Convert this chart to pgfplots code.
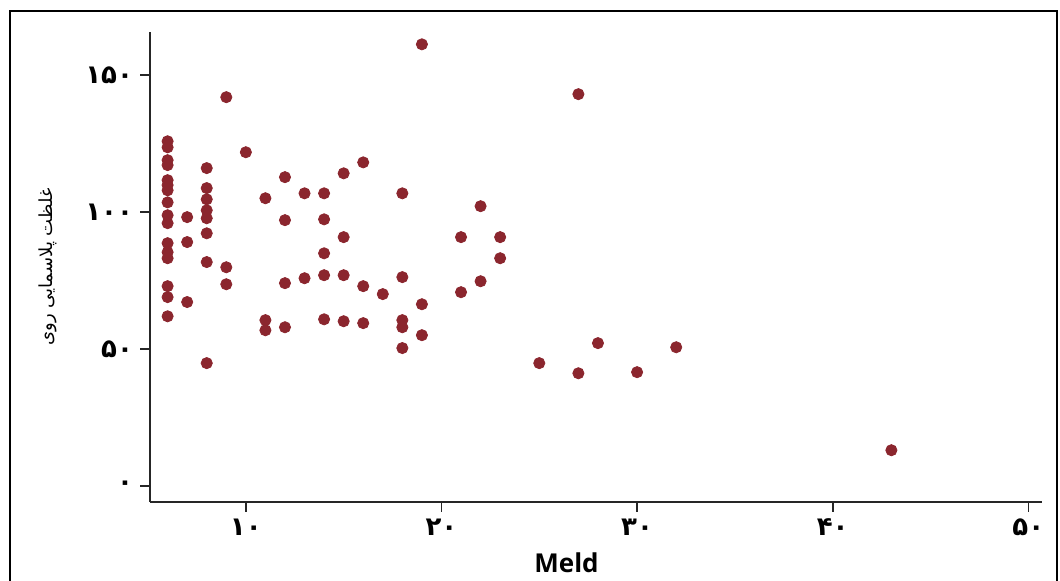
\documentclass[border=0pt]{standalone}
\usepackage{fontspec}
\usepackage{pgfplots}
\pgfplotsset{compat=1.18}
\TeXXeTstate=1
\newfontfamily\arabicfont[Script=Arabic]{DejaVu Sans}
\newfontfamily\digitfont{DejaVu Sans}
\newfontfamily\labfont{Open Sans}
\definecolor{dotred}{RGB}{139,38,46}
\begin{document}
\begin{tikzpicture}
\useasboundingbox (0,0) rectangle (530pt,290.5pt);
\draw[line width=1pt] (5pt,-1pt) -- (5pt,285pt) -- (528.5pt,285pt) -- (528.5pt,-1pt);
\begin{axis}[
 at={(75pt,39.5pt)}, anchor=south west,
 scale only axis, width=446pt, height=235pt,
 xmin=5.1, xmax=50.7, ymin=-5.8, ymax=165.8,
 axis x line*=bottom, axis y line*=left,
 axis line style={-, line width=0.8pt, black!85},
 tick align=outside, major tick length=5pt,
 tick style={line width=0.8pt, black!85},
 xtick={10,20,30,40,50}, xticklabels={۱۰,۲۰,۳۰,۴۰,۵۰},
 ytick={0,50,100,150}, yticklabels={۰,۵۰,۱۰۰,۱۵۰},
 ticklabel style={font=\digitfont\bfseries\fontsize{13}{15}\selectfont},
 xlabel={Meld},
 xlabel style={font=\labfont\bfseries\fontsize{13}{15}\selectfont, at={(axis description cs:0.467,0)}, anchor=center, yshift=-30.5pt},
 ylabel={\arabicfont\beginR غلظت پلاسمایی روی\endR},
 ylabel style={font=\fontsize{9}{11}\selectfont, at={(axis description cs:0,0.5)}, anchor=center, yshift=51pt},
]
\addplot[only marks, mark=*, mark size=2.8pt, mark options={fill=dotred, draw=dotred}] table {
x y
6 125.9
6 123.7
6 119.0
6 117.2
6 111.7
6 109.9
6 108.0
6 103.6
6 98.9
6 96.0
6 88.7
6 85.4
6 83.2
6 73.0
6 69.0
6 62.0
7 98.2
7 89.1
7 67.2
8 116.1
8 108.8
8 104.7
8 100.7
8 97.8
8 92.3
8 81.8
8 44.9
9 79.9
9 73.7
9 142.0
10 121.9
11 105.1
11 60.6
11 56.9
12 112.8
12 97.1
12 74.1
12 58.0
13 106.9
13 75.9
14 106.9
14 97.4
14 85.0
14 77.0
14 60.9
15 114.2
15 90.9
15 77.0
15 60.2
16 118.2
16 73.0
16 59.5
17 70.1
18 106.9
18 76.3
18 60.6
18 58.0
18 50.4
19 161.3
19 66.4
19 55.1
21 90.9
21 70.8
22 102.2
22 74.8
23 90.9
23 83.2
25 44.9
27 143.1
27 41.2
28 52.2
30 41.6
32 50.7
43 13.1
};
\end{axis}
\end{tikzpicture}
\end{document}
